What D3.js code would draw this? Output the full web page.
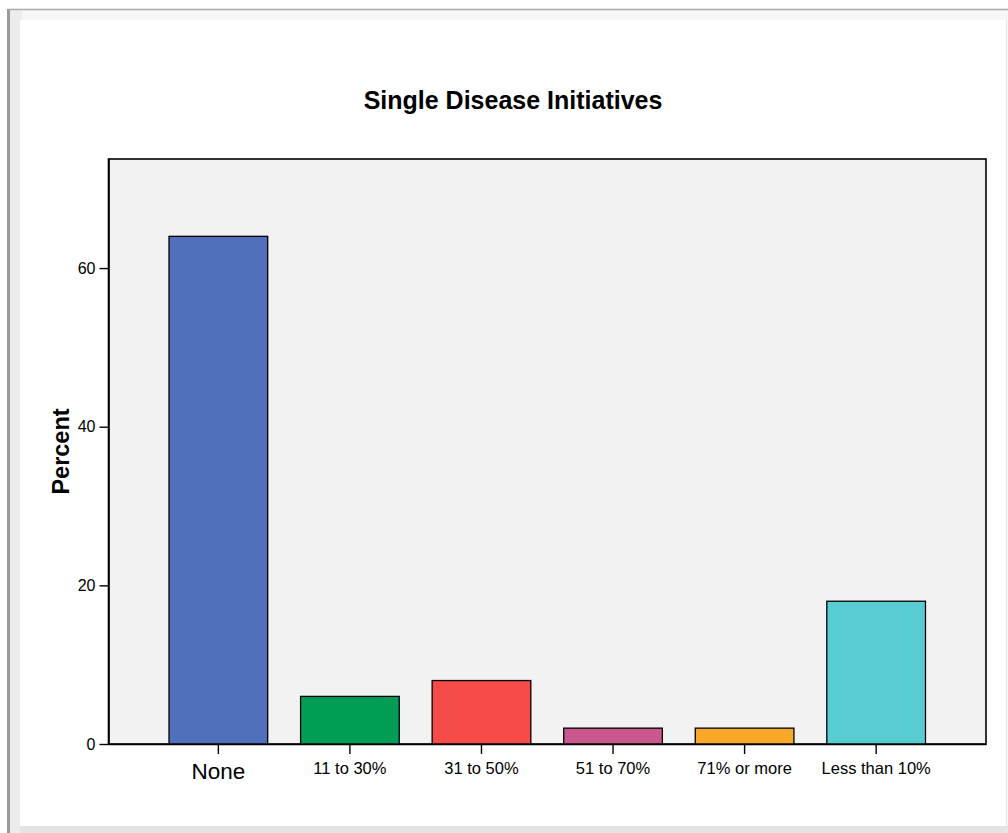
<!DOCTYPE html>
<html>
<head>
<meta charset="utf-8">
<script src="https://cdn.jsdelivr.net/npm/d3@7"></script>
<style>
  html, body { margin: 0; padding: 0; background: #ffffff; }
  svg { display: block; font-family: "Liberation Sans", Arial, sans-serif; }
</style>
</head>
<body>
<svg id="chart" width="1008" height="833"></svg>
<script>
// Share of respondents by single-disease-initiative funding share
const categories = ["None", "11 to 30%", "31 to 50%", "51 to 70%", "71% or more", "Less than 10%"];
const percents   = [64, 6, 8, 2, 2, 18];
const barColors  = ["#5170bc", "#009d57", "#f74b49", "#c8588e", "#faa828", "#57cdd2"];
const yTicks     = [0, 20, 40, 60];
const title      = "Single Disease Initiatives";
const yLabel     = "Percent";

const svg = d3.select("#chart");

// Viewer frame: grey rule on left/top, soft shadow, white page
svg.append("rect").attr("x", 8).attr("y", 9).attr("width", 1000).attr("height", 824).attr("fill", "#f7f7f7");
svg.append("rect").attr("x", 10).attr("y", 11).attr("width", 12).attr("height", 822).attr("fill", "#ececec");
svg.append("rect").attr("x", 20).attr("y", 20).attr("width", 986).attr("height", 806).attr("fill", "#ffffff");
svg.append("rect").attr("x", 20).attr("y", 826).attr("width", 988).attr("height", 7).attr("fill", "#e4e4e4");
svg.append("line").attr("x1", 8.5).attr("x2", 8.5).attr("y1", 9).attr("y2", 833).attr("stroke", "#9a9a9a").attr("stroke-width", 3);
svg.append("line").attr("x1", 8).attr("x2", 1008).attr("y1", 9.5).attr("y2", 9.5).attr("stroke", "#a8a8a8").attr("stroke-width", 1.5);
svg.append("line").attr("x1", 1006.5).attr("x2", 1006.5).attr("y1", 20).attr("y2", 826).attr("stroke", "#e6e6e6").attr("stroke-width", 1);

const plot = { left: 108.5, right: 986, top: 159, bottom: 744 };

const x = d3.scaleBand()
  .domain(categories)
  .range([plot.left, plot.right])
  .paddingInner(0.25)
  .paddingOuter(0.46);

const y = d3.scaleLinear()
  .domain([0, 73.75])
  .range([plot.bottom, plot.top]);

// Plot background and frame
svg.append("rect")
  .attr("x", plot.left).attr("y", plot.top)
  .attr("width", plot.right - plot.left).attr("height", plot.bottom - plot.top)
  .attr("fill", "#f2f2f2").attr("stroke", "#000").attr("stroke-width", 1.6);

// Bars
svg.append("g").selectAll("rect")
  .data(categories)
  .join("rect")
  .attr("x", d => x(d))
  .attr("width", x.bandwidth())
  .attr("y", (d, i) => y(percents[i]))
  .attr("height", (d, i) => y(0) - y(percents[i]))
  .attr("fill", (d, i) => barColors[i])
  .attr("stroke", "#000")
  .attr("stroke-width", 1.3);

// Y axis
const yAxis = svg.append("g")
  .attr("transform", `translate(${plot.left},0)`)
  .call(d3.axisLeft(y).tickValues(yTicks).tickSize(9).tickSizeOuter(0).tickPadding(4).tickFormat(d3.format("d")));
yAxis.select(".domain").attr("stroke", "#000").attr("stroke-width", 1.6);
yAxis.selectAll(".tick line").attr("stroke", "#000").attr("stroke-width", 1.4);
yAxis.selectAll(".tick text")
  .attr("fill", "#000")
  .style("font-size", "16px")
  .style("font-family", "Liberation Sans, Arial, sans-serif");

// X axis
const xAxis = svg.append("g")
  .attr("transform", `translate(0,${plot.bottom})`)
  .call(d3.axisBottom(x).tickSize(10).tickSizeOuter(0).tickPadding(8));
xAxis.select(".domain").attr("stroke", "#000").attr("stroke-width", 1.6);
xAxis.selectAll(".tick line").attr("stroke", "#000").attr("stroke-width", 1.4);
xAxis.selectAll(".tick text")
  .attr("fill", "#000")
  .style("font-family", "Liberation Sans, Arial, sans-serif")
  .style("font-size", d => d === "None" ? "22.5px" : "16.5px")
  .attr("dy", d => d === "None" ? "0.75em" : "0.71em");

// Title
svg.append("text")
  .attr("x", 513).attr("y", 109)
  .attr("text-anchor", "middle")
  .style("font-size", "25px").attr("font-weight", "bold")
  .text(title);

// Y axis title
svg.append("text")
  .attr("transform", `translate(69,${(plot.top + plot.bottom) / 2}) rotate(-90)`)
  .attr("text-anchor", "middle")
  .style("font-size", "23.5px").attr("font-weight", "bold")
  .text(yLabel);
</script>
</body>
</html>
